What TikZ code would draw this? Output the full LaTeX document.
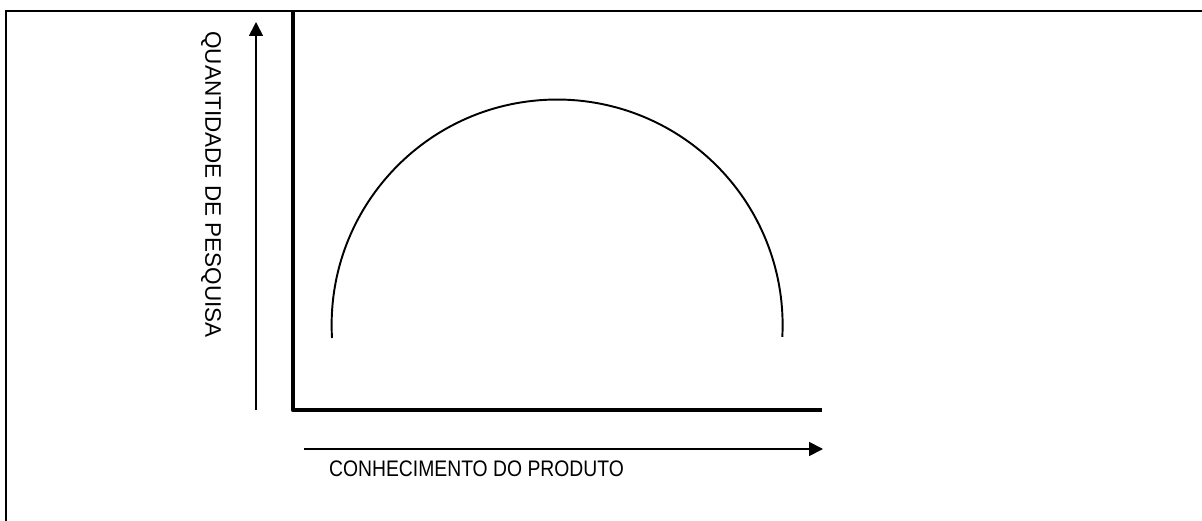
\documentclass[tikz,border=0pt]{standalone}
\usepackage{fontspec}
\setmainfont{Liberation Sans}
\usetikzlibrary{arrows.meta,positioning}

\begin{document}
\begin{tikzpicture}[x=0.02cm, y=-0.02cm]
    \tikzstyle{frame}=[draw=black, line width=1.1pt]
    \tikzstyle{axis}=[draw=black, line width=2.4pt, line join=round]
    \tikzstyle{arrow}=[-{Triangle[length=0.28cm, width=0.28cm]}, line width=1pt]
    \tikzstyle{curve}=[draw=black, line width=1.1pt]
    \tikzstyle{label}=[font=\fontsize{12.8}{15}\selectfont, inner sep=0pt]

    \useasboundingbox (0,0) rectangle (1202,520);

    % Border
    \draw[frame] (6,530) -- (6,11) -- (1210,11);

    % Axes
    \coordinate (top) at (293,11);
    \coordinate (origin) at (293,410);
    \coordinate (xend) at (822,410);
    \draw[axis] (top) -- (origin) -- (xend);

    % Arrows
    \coordinate (ystart) at (256,410);
    \coordinate (ytip) at (256,22);
    \coordinate (xstart) at (304,449);
    \coordinate (xtip) at (823,449);
    \draw[arrow] (ystart) -- (ytip);
    \draw[arrow] (xstart) -- (xtip);

    % Labels
    \node[label, rotate=-90] (ylabel) at (211,184.5) {QUANTIDADE DE PESQUISA};
    \node[label, xscale=0.86] (xlabel) at (476.5,469) {CONHECIMENTO DO PRODUTO};

    % Curve
    \draw[curve] (332,338) arc[start angle=176.7, end angle=363, radius=225.5];
\end{tikzpicture}
\end{document}
